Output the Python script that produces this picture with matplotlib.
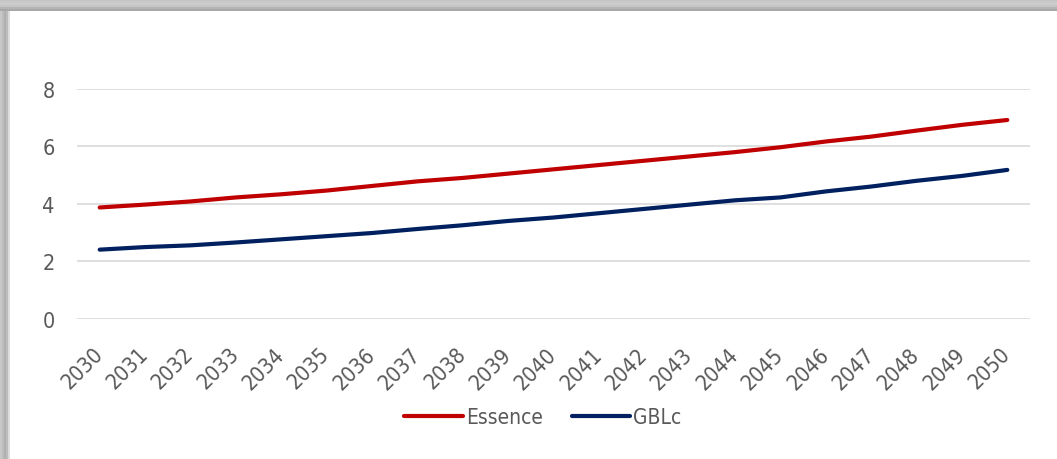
"""Essence vs GBLc projection, 2030-2050."""

import matplotlib.pyplot as plt
import matplotlib.transforms as mtransforms
from matplotlib.patches import Rectangle

years = list(range(2030, 2051))
essence = [3.87, 3.97, 4.08, 4.22, 4.33, 4.46, 4.62, 4.78, 4.90, 5.05, 5.20,
           5.35, 5.50, 5.65, 5.80, 5.97, 6.17, 6.34, 6.55, 6.75, 6.92]
gblc = [2.40, 2.49, 2.55, 2.65, 2.76, 2.87, 2.98, 3.12, 3.25, 3.40, 3.52,
        3.67, 3.82, 3.97, 4.12, 4.22, 4.43, 4.60, 4.80, 4.97, 5.18]
y_ticks = [0, 2, 4, 6, 8]

plt.rcParams["font.family"] = ["DejaVu Sans"]
plt.rcParams["font.stretch"] = "condensed"

W, H = 1057, 460
fig = plt.figure(figsize=(W / 100, H / 100), dpi=100, facecolor="white")

# window-style shadow frame along the top and left edges
for i, c in enumerate(["#c4c4c4", "#c9c9c9", "#cdcdcd", "#c6c6c6", "#b4b4b4", "#a8a8a8"]):
    fig.patches.append(Rectangle((0, 1 - (2 * i + 2) / H), 1, 2 / H,
                                 transform=fig.transFigure, color=c, lw=0, zorder=0))
for i, c in enumerate(["#c8c8c8", "#bdbdbd", "#b0b0b0", "#bcbcbc", "#dcdcdc"]):
    fig.patches.append(Rectangle((2 * i / W, 0), 2 / W, 1 - 12 / H,
                                 transform=fig.transFigure, color=c, lw=0, zorder=0))

ax = fig.add_axes([77 / W, 1 - 319.5 / H, (1030 - 77) / W, (319.5 - 90) / H])
ax.set_facecolor("none")

ax.plot(years, essence, color="#C00000", lw=3.0, solid_capstyle="round", label="Essence")
ax.plot(years, gblc, color="#002060", lw=3.0, solid_capstyle="round", label="GBLc")

ax.set_xlim(2029.5, 2050.5)
ax.set_ylim(0, 8)
ax.set_yticks(y_ticks)
ax.set_xticks(years)
ax.set_xticklabels([str(y) for y in years], rotation=45, ha="right", va="top")
ax.tick_params(axis="x", length=0, pad=18, labelsize=15.5, labelcolor="#595959")
ax.tick_params(axis="y", length=0, pad=16, labelsize=15.5, labelcolor="#595959")

# nudge the slanted year labels so they end just right of each tick
shift = mtransforms.ScaledTranslation(7 / 100, 0, fig.dpi_scale_trans)
for lab in ax.get_xticklabels():
    lab.set_transform(lab.get_transform() + shift)

ax.grid(True, axis="y", color="#d9d9d9", lw=1.2)
ax.set_axisbelow(True)
for s in ax.spines.values():
    s.set_visible(False)

ax.legend(loc="center", bbox_to_anchor=(543 / W, 1 - 418 / H), bbox_transform=fig.transFigure,
          ncol=2, frameon=False, fontsize=15, labelcolor="#595959",
          handlelength=2.8, handletextpad=0.15, columnspacing=1.4)

fig.savefig("out.png", dpi=100)
